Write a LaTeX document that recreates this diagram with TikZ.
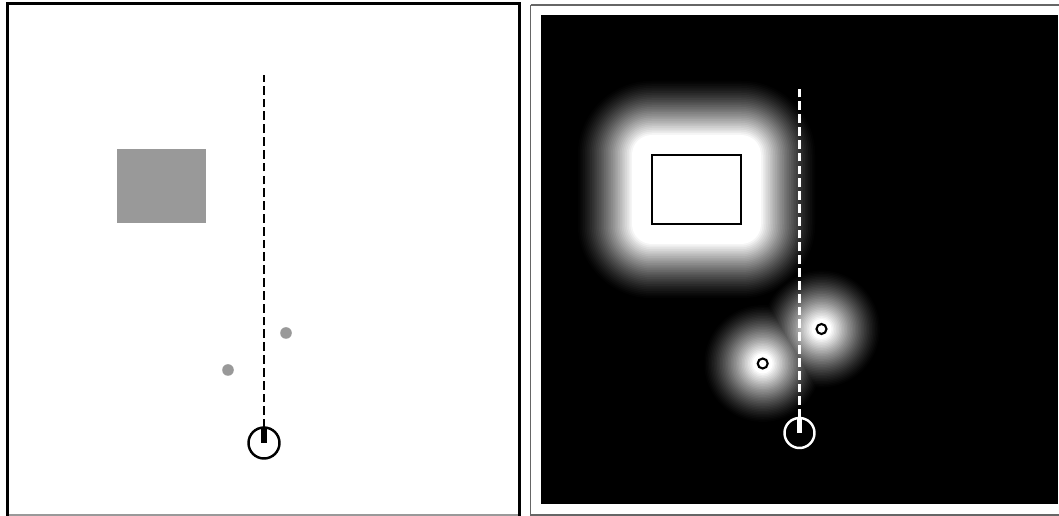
\documentclass[tikz,border=0pt]{standalone}

\tikzset{
  panelframe/.style={line width=2pt},
  trajectory/.style={line width=1.5pt, dash pattern=on 5pt off 2.3pt},
  heading/.style={line width=3pt},
  robotring/.style={line width=1.4pt},
  obstacledot/.style={fill=black!40},
}

\begin{document}
\begin{tikzpicture}[x=0.02cm, y=-0.02cm]
    \useasboundingbox (0,0) rectangle (1059,516);

    % linkes Bild: Weltkarte mit Hindernissen
    \draw[panelframe] (7.7,3.6) rectangle (519.6,517);
    \draw[black!40, line width=0.6pt] (9,515) -- (518,515);
    \fill[black!40] (117,149) rectangle (206,223);
    \coordinate (obsA) at (286,333);
    \coordinate (obsB) at (228,370);
    \fill[obstacledot] (obsA) circle (5.8);
    \fill[obstacledot] (obsB) circle (5.8);

    % Roboter und geplanter Pfad
    \coordinate (robotL) at (264,443);
    \coordinate (goalL) at (264,75.5);
    \coordinate (noseL) at (264,428);
    \draw[trajectory] (noseL) -- (goalL);
    \draw[heading] (robotL) -- (noseL);
    \draw[robotring] (robotL) circle (15.5);

    % rechtes Bild: Kostenkarte
    \draw[black!60, line width=1.1pt] (530.5,4.8) -- (1060,4.8);
    \draw[black!60, line width=1.1pt] (530.5,4.8) -- (530.5,514.8) -- (1060,514.8);
    \fill[black] (541,15) rectangle (1058,504);

    % Abstandsfeld um die Hindernisse (hell = nah)
    \foreach \k in {0,...,32}{
        \pgfmathsetmacro\t{\k/32}
        \pgfmathsetmacro\g{100*\t^1.3}
        \pgfmathsetmacro\d{20+56*(1-\t)}
        \pgfmathsetmacro\r{10+50*(1-\t)}
        \pgfmathsetmacro\rc{\d*0.567}
        \fill[white!\g!black, rounded corners=\rc pt] (652-\d,155-\d) rectangle (741+\d,224+\d);
        \fill[white!\g!black] (821.5,329) circle (\r);
        \fill[white!\g!black] (762.7,363.5) circle (\r);
    }

    % Hindernisse in der Kostenkarte
    \draw[fill=white, line width=1.5pt] (652,155) rectangle (741,224);
    \coordinate (costA) at (821.5,329);
    \coordinate (costB) at (762.7,363.5);
    \draw[fill=white, line width=1.2pt] (costA) circle (5);
    \draw[fill=white, line width=1.2pt] (costB) circle (5);

    % Roboter und Pfad in der Kostenkarte
    \coordinate (robotR) at (799.5,433);
    \coordinate (goalR) at (799.5,85);
    \coordinate (noseR) at (799.5,418);
    \draw[white, trajectory] (noseR) -- (goalR);
    \draw[white, heading] (robotR) -- (noseR);
    \draw[white, robotring] (robotR) circle (15);

\end{tikzpicture}
\end{document}
